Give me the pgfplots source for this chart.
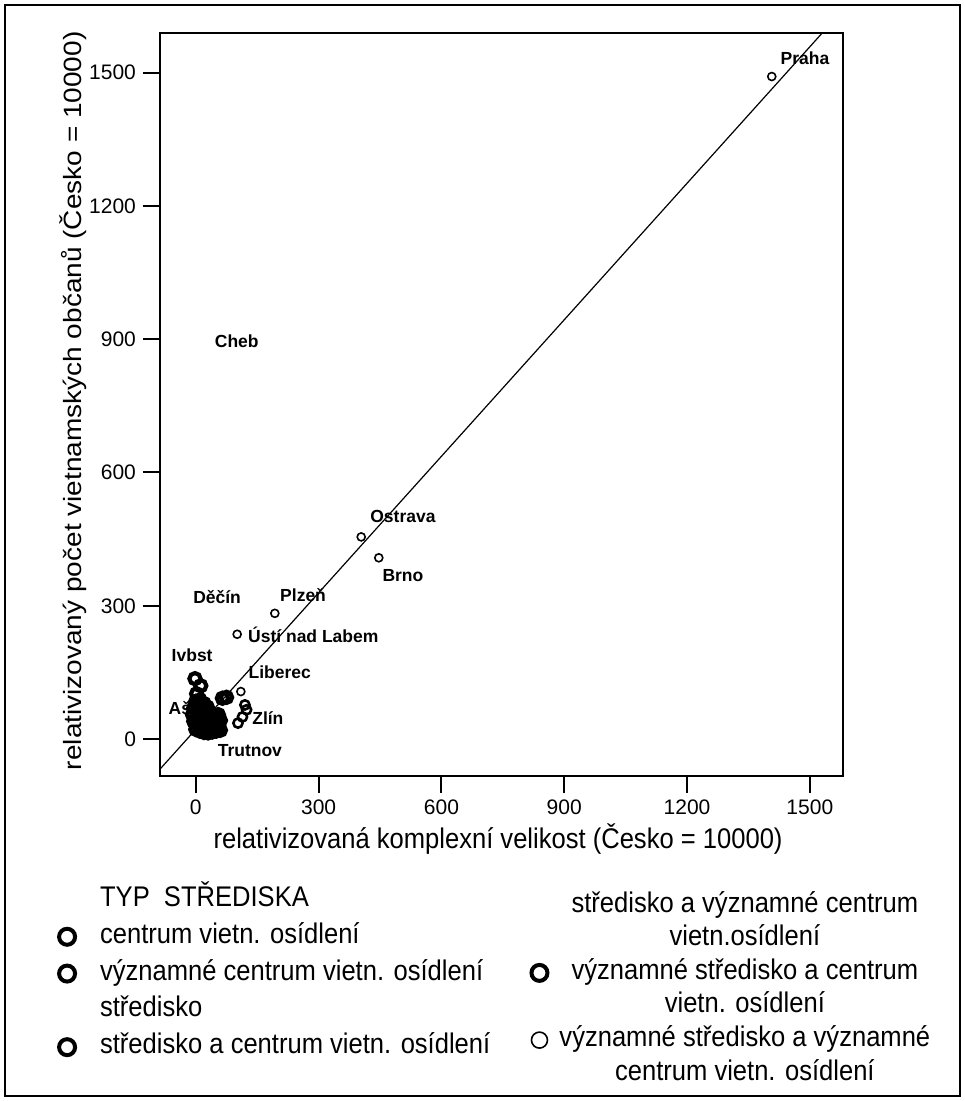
\documentclass[border=0pt]{standalone}
\usepackage{fontspec}
\setmainfont{Liberation Sans}
\newfontfamily\narrowfont[FakeStretch=0.9]{Liberation Sans}
\newfontfamily\wideyfont[FakeStretch=1.12]{Liberation Sans}
\usepackage{pgfplots}
\pgfplotsset{compat=1.18}
\begin{document}
\begin{tikzpicture}[x=1pt,y=1pt]
\useasboundingbox (0,0) rectangle (482,550.5);
\draw[line width=1pt] (2.5,2.5) rectangle (480,548);
\begin{axis}[
  at={(80pt,162.5pt)}, anchor=south west,
  scale only axis, width=341.5pt, height=371.5pt,
  xmin=-87.5, xmax=1581, ymin=-83, ymax=1589,
  xtick={0,300,600,900,1200,1500}, ytick={0,300,600,900,1200,1500},
  tick pos=left, tick align=outside, major tick length=8.5pt,
  every tick/.style={black, line width=1pt},
  axis line style={line width=1pt},
  tick label style={font=\fontsize{10.5}{12}\selectfont},
  scaled ticks=false, /pgf/number format/assume math mode=true, /pgf/number format/1000 sep={},
  xlabel={relativizovaná komplexní velikost (Česko = 10000)},
  ylabel={relativizovaný počet vietnamských občanů (Česko = 10000)},
  xlabel style={font=\narrowfont\fontsize{14.2}{16}\selectfont, at={(axis description cs:0.495,-0.085)}, anchor=center},
  ylabel style={font=\wideyfont\fontsize{12.5}{15}\selectfont, at={(axis description cs:-0.127,0.505)}, anchor=center},
  legend style={draw=none, fill=none, inner sep=0pt, anchor=north west,
    at={(-0.1616,-0.1468)}, row sep=3.9pt, column sep=11.5pt,
    nodes={inner sep=1pt, text height=9.5pt, text depth=3pt, font=\narrowfont\fontsize{14.2}{16}\selectfont}},
  legend cell align=left,
]
% fitted line
\addplot[black, line width=0.6pt, forget plot] coordinates {(-100,-80.4) (1600,1660.4)};
% cities (thin circles)
\addplot[only marks, mark=o, mark size=2pt, mark options={line width=0.8pt, black}, forget plot]
  coordinates {(1407,1491) (404,455) (447,408) (193,283) (101,236) (110,107)};
% Zlin group
\addplot[only marks, mark=o, mark size=2.3pt, mark options={line width=1.3pt, black}, forget plot]
  coordinates {(120,77) (124,66) (114,50) (103,36)};
% dense cluster
\addplot[only marks, mark=o, mark size=2.8pt, mark options={line width=2.1pt, black}, forget plot]
  coordinates {(-2,136) (12,120) (2,102) (0,85) (10,88) (20,80) (-5,70) (5,68) (15,65) (25,62)
  (-8,55) (2,52) (12,50) (22,48) (32,52) (42,45) (52,42) (-5,40) (5,36) (15,33) (25,30) (35,28)
  (45,25) (55,30) (60,42) (0,22) (10,18) (20,15) (30,14) (40,16) (50,18) (60,20) (65,92) (75,94)
  (35,40) (45,35) (55,55) (28,72) (18,58) (8,28) (48,50) (38,22)};
% labels
\begin{scope}[every node/.style={font=\bfseries\fontsize{8.75}{10}\selectfont, inner sep=0pt}]
\node at (axis cs:1488,1532) {Praha};
\node at (axis cs:506,500) {Ostrava};
\node at (axis cs:506,369) {Brno};
\node at (axis cs:100,896) {Cheb};
\node at (axis cs:52,320) {Děčín};
\node at (axis cs:262,324) {Plzeň};
\node at (axis cs:287,234) {Ústí nad Labem};
\node at (axis cs:-9,189) {Ivbst};
\node at (axis cs:205,151) {Liberec};
\node at (axis cs:-39,70) {Aš};
\node at (axis cs:176,47) {Zlín};
\node at (axis cs:132,-25) {Trutnov};
\end{scope}
% legend (left column)
\addlegendimage{empty legend}
\addlegendentry{TYP\ \ STŘEDISKA}
\addlegendimage{only marks, mark=o, mark size=4pt, mark options={line width=2pt, black}}
\addlegendentry{centrum vietn. osídlení}
\addlegendimage{only marks, mark=o, mark size=4pt, mark options={line width=2pt, black}}
\addlegendentry{významné centrum vietn. osídlení}
\addlegendimage{empty legend}
\addlegendentry{středisko}
\addlegendimage{only marks, mark=o, mark size=4pt, mark options={line width=2pt, black}}
\addlegendentry{středisko a centrum vietn. osídlení}
\end{axis}
% right legend column
\begin{axis}[
  at={(80pt,162.5pt)}, anchor=south west,
  scale only axis, width=341.5pt, height=371.5pt,
  xmin=0, xmax=1, ymin=0, ymax=1, hide axis,
  legend style={draw=none, fill=none, inner sep=0pt, anchor=north west,
    at={(0.530,-0.1545)}, row sep=2.3pt, column sep=5pt,
    nodes={inner sep=1pt, text height=9.5pt, text depth=3pt, font=\narrowfont\fontsize{14.2}{16}\selectfont}},
  legend cell align=center,
]
\addplot[draw=none, forget plot] coordinates {(0.5,0.5)};
\addlegendimage{empty legend}
\addlegendentry{středisko a významné centrum}
\addlegendimage{empty legend}
\addlegendentry{vietn.osídlení}
\addlegendimage{only marks, mark=o, mark size=4pt, mark options={line width=2pt, black}}
\addlegendentry{významné středisko a centrum}
\addlegendimage{empty legend}
\addlegendentry{vietn. osídlení}
\addlegendimage{only marks, mark=o, mark size=4pt, mark options={line width=0.8pt, black}}
\addlegendentry{významné středisko a významné}
\addlegendimage{empty legend}
\addlegendentry{centrum vietn. osídlení}
\end{axis}
\end{tikzpicture}
\end{document}
